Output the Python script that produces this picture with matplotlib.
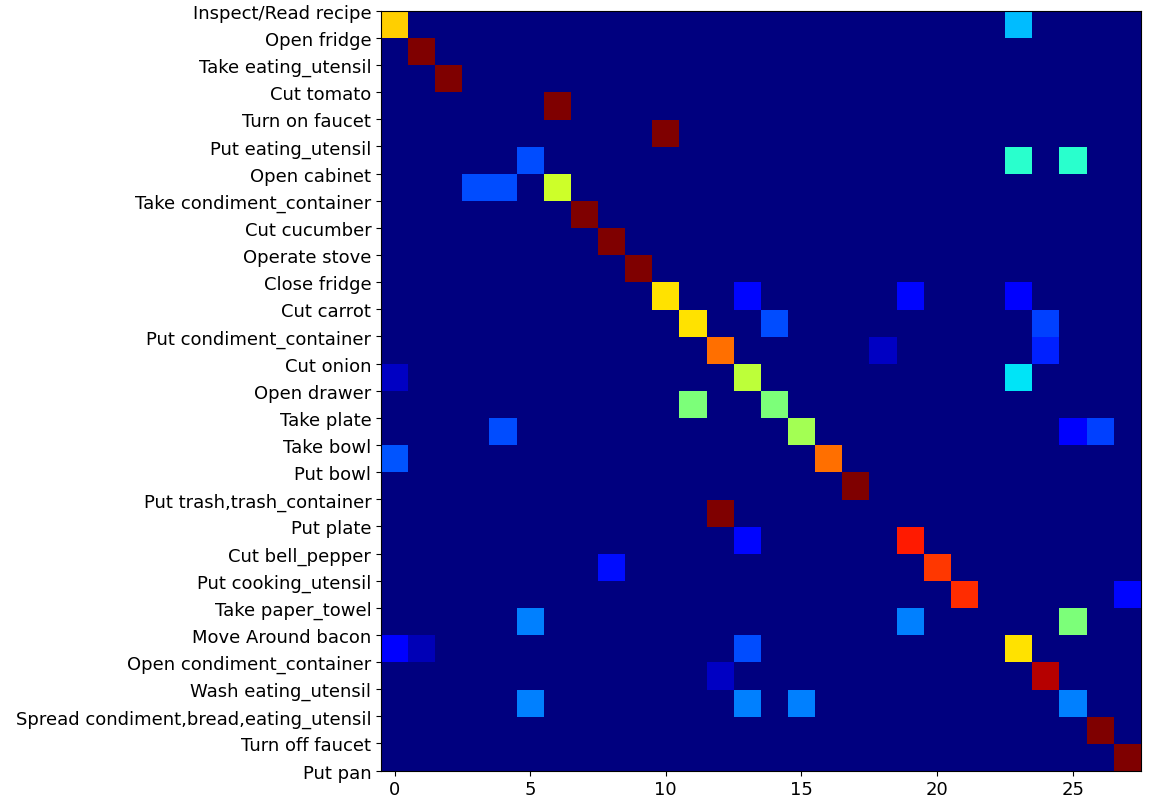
import numpy as np
import matplotlib
matplotlib.use("Agg")
import matplotlib.pyplot as plt

labels = ["Inspect/Read recipe", "Open fridge", "Take eating_utensil", "Cut tomato",
          "Turn on faucet", "Put eating_utensil", "Open cabinet", "Take condiment_container",
          "Cut cucumber", "Operate stove", "Close fridge", "Cut carrot",
          "Put condiment_container", "Cut onion", "Open drawer", "Take plate", "Take bowl",
          "Put bowl", "Put trash,trash_container", "Put plate", "Cut bell_pepper",
          "Put cooking_utensil", "Take paper_towel", "Move Around bacon",
          "Open condiment_container", "Wash eating_utensil",
          "Spread condiment,bread,eating_utensil", "Turn off faucet", "Put pan"]

rows = [0, 0, 1, 2, 3, 4, 5, 5, 5, 6, 6, 6, 7, 8, 9,
        10, 10, 10, 10, 11, 11, 11, 12, 12, 12, 13, 13, 13, 14, 14,
        15, 15, 15, 15, 16, 16, 17, 18, 19, 19, 20, 20, 21, 21,
        22, 22, 22, 23, 23, 23, 23, 24, 24, 25, 25, 25, 25, 26, 27]
cols = [0, 23, 1, 2, 6, 10, 5, 23, 25, 3, 4, 6, 7, 8, 9,
        10, 13, 19, 23, 11, 14, 24, 12, 18, 24, 0, 13, 23, 11, 14,
        4, 15, 25, 26, 0, 16, 17, 12, 13, 19, 8, 20, 21, 27,
        5, 19, 25, 0, 1, 13, 23, 12, 24, 5, 13, 15, 25, 26, 27]
vals = [0.69, 0.31, 1, 1, 1, 1, 0.2, 0.4, 0.4, 0.2, 0.2, 0.6, 1, 1, 1,
        0.67, 0.13, 0.13, 0.12, 0.67, 0.2, 0.19, 0.79, 0.06, 0.16, 0.06, 0.58, 0.35, 0.5, 0.5,
        0.2, 0.55, 0.11, 0.19, 0.21, 0.79, 1, 1, 0.13, 0.88, 0.14, 0.85, 0.86, 0.13,
        0.25, 0.25, 0.5, 0.12, 0.05, 0.2, 0.67, 0.06, 0.95, 0.25, 0.25, 0.25, 0.25, 1, 1]

matrix = np.zeros((28, 28))
matrix[rows, cols] = vals

fig = plt.figure(figsize=(11.52, 8.04), dpi=100)
ax = fig.add_axes([381 / 1152, 1 - 771.6 / 804, 759.5 / 1152, 759.8 / 804])
ax.imshow(matrix, cmap="jet", vmin=0, vmax=1, interpolation="nearest", aspect="auto")
ax.set_xticks(np.arange(0, 28, 5))
ax.set_yticks(np.arange(-0.5, 28.5, 1))
ax.set_yticklabels(labels)
ax.tick_params(labelsize=13)
fig.savefig("out.png", dpi=100)
